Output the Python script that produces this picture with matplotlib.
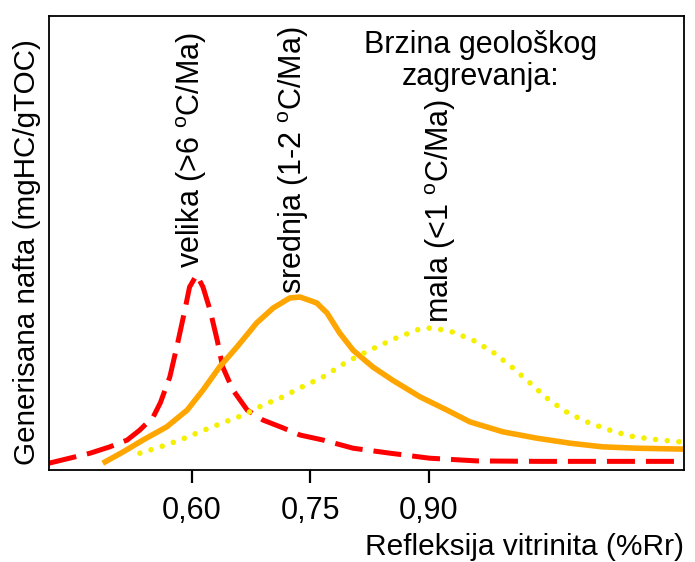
import numpy as np
import matplotlib.pyplot as plt

plt.rcParams['font.family'] = ['Liberation Sans', 'DejaVu Sans']

# Data (x = %Rr, y = relative generated oil)
x_velika = [0.419, 0.471, 0.496, 0.518, 0.534, 0.551, 0.560, 0.572, 0.582, 0.591,
            0.597, 0.606, 0.614, 0.623, 0.632, 0.639, 0.652, 0.670, 0.690, 0.715,
            0.737, 0.766, 0.804, 0.851, 0.901, 0.961, 1.040, 1.222]
y_velika = [1.5, 3.7, 5.1, 6.6, 8.8, 11.7, 14.8, 20.5, 28.0, 35.2,
            40.3, 43.0, 40.3, 35.2, 28.6, 22.7, 17.6, 13.2, 11.0, 9.3,
            7.7, 6.6, 4.8, 3.7, 2.6, 2.0, 1.9, 1.9]

x_srednja = [0.487, 0.513, 0.538, 0.568, 0.594, 0.614, 0.635, 0.657, 0.682, 0.703,
             0.724, 0.737, 0.758, 0.771, 0.787, 0.804, 0.829, 0.854, 0.889, 0.923,
             0.952, 0.994, 1.037, 1.079, 1.120, 1.163, 1.222]
y_srednja = [1.5, 4.0, 6.6, 9.5, 13.2, 17.6, 22.7, 27.1, 32.4, 35.7,
             37.9, 38.1, 36.8, 34.6, 30.2, 26.4, 22.7, 19.8, 16.1, 13.2,
             10.6, 8.4, 7.0, 5.9, 5.1, 4.8, 4.6]

x_mala = [0.534, 0.560, 0.585, 0.610, 0.639, 0.665, 0.690, 0.715, 0.737, 0.766,
          0.796, 0.825, 0.859, 0.889, 0.905, 0.930, 0.956, 0.981, 1.005, 1.028,
          1.049, 1.072, 1.097, 1.125, 1.154, 1.182, 1.218]
y_mala = [3.7, 5.1, 6.6, 8.4, 10.4, 12.1, 14.3, 16.1, 18.1, 20.5,
          23.8, 26.4, 29.1, 31.1, 31.3, 30.4, 28.6, 26.0, 22.7, 19.2,
          15.9, 13.0, 10.8, 9.0, 7.5, 6.8, 6.2]

tick_pos = [0.60, 0.75, 0.90]
tick_lab = ['0,60', '0,75', '0,90']

fig = plt.figure(figsize=(6.95, 5.62), dpi=100)
ax = fig.add_axes([0.0705, 0.1637, 0.9135, 0.8078])

ax.plot(x_velika, y_velika, color='#ff0000', lw=3.6, dashes=(5.6, 2.2), dash_capstyle='butt')
ax.plot(x_srednja, y_srednja, color='#ffa500', lw=4.0, solid_capstyle='butt',
        solid_joinstyle='round')
ax.plot(x_mala, y_mala, color='#f5f000', lw=4.0, dashes=(0.01, 2.1), dash_capstyle='round')

ax.set_xlim(0.419, 1.223)
ax.set_ylim(0, 100)
ax.set_xticks(tick_pos)
ax.set_xticklabels(tick_lab, fontsize=22)
ax.set_yticks([])
ax.tick_params(axis='x', direction='out', length=9, width=1.6, pad=10)
for s in ax.spines.values():
    s.set_linewidth(1.3)

ax.set_xlabel('Refleksija vitrinita (%Rr)', fontsize=21.5, loc='right', labelpad=5)
ax.set_ylabel('Generisana nafta (mgHC/gTOC)', fontsize=21.3)
ax.yaxis.set_label_coords(-0.012, 0.48)

deg = r'$^{\mathregular{o}}$'
ax.text(0.600, 44.5, 'velika (>6 ' + deg + 'C/Ma)', rotation=90, fontsize=22,
        ha='center', va='bottom')
ax.text(0.729, 38.8, 'srednja (1-2 ' + deg + 'C/Ma)', rotation=90, fontsize=22,
        ha='center', va='bottom')
ax.text(0.915, 32.4, 'mala (<1 ' + deg + 'C/Ma)', rotation=90, fontsize=22,
        ha='center', va='bottom')
ax.text(0.965, 97.0, 'Brzina geološkog\nzagrevanja:', fontsize=22, ha='center',
        va='top', linespacing=1.1)

plt.savefig('out.png', dpi=100)
